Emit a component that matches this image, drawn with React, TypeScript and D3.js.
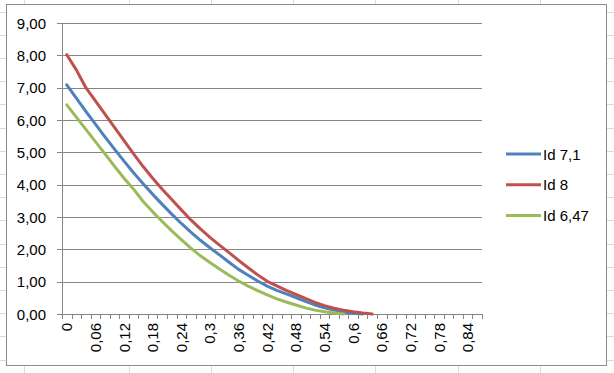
import React from "react";
import * as d3 from "d3";

const categories: number[] = [
  0, 0.02, 0.04, 0.06, 0.08, 0.1, 0.12, 0.14, 0.16, 0.18, 0.2, 0.22, 0.24, 0.26, 0.28, 0.3,
  0.32, 0.34, 0.36, 0.38, 0.4, 0.42, 0.44, 0.46, 0.48, 0.5, 0.52, 0.54, 0.56, 0.58, 0.6,
  0.62, 0.64, 0.66, 0.68, 0.7, 0.72, 0.74, 0.76, 0.78, 0.8, 0.82, 0.84, 0.86,
];

const seriesNames: string[] = ["Id 7,1", "Id 8", "Id 6,47"];
const seriesColors: string[] = ["#4F81BD", "#C0504D", "#9BBB59"];

const id71: number[] = [
  7.09, 6.68, 6.27, 5.87, 5.48, 5.1, 4.73, 4.37, 4.03, 3.7, 3.39, 3.09, 2.8, 2.53, 2.28, 2.05,
  1.83, 1.6, 1.38, 1.2, 1.02, 0.86, 0.73, 0.62, 0.51, 0.39, 0.28, 0.19, 0.12, 0.06, 0.02, 0,
];
const id8: number[] = [
  8.02, 7.55, 7.0, 6.59, 6.18, 5.77, 5.36, 4.95, 4.56, 4.2, 3.86, 3.54, 3.22, 2.91, 2.63, 2.37,
  2.13, 1.9, 1.66, 1.43, 1.21, 1.01, 0.87, 0.73, 0.61, 0.48, 0.36, 0.26, 0.18, 0.12, 0.07, 0.03, 0,
];
const id647: number[] = [
  6.47, 6.09, 5.71, 5.33, 4.95, 4.57, 4.2, 3.86, 3.48, 3.16, 2.86, 2.57, 2.3, 2.04, 1.8, 1.59,
  1.39, 1.2, 1.02, 0.86, 0.72, 0.59, 0.47, 0.37, 0.28, 0.19, 0.12, 0.07, 0.03, 0,
];

const yTicks: number[] = [0, 1, 2, 3, 4, 5, 6, 7, 8, 9];

const W = 614;
const H = 373;
const FONT = "'Liberation Sans', Arial, sans-serif";

export default function App() {
  const allSeries = [id71, id8, id647];
  const x = d3
    .scaleBand<string>()
    .domain(categories.map((c) => String(c)))
    .range([62, 482])
    .padding(0);
  const bw = x.bandwidth();
  const cx = (i: number) => (x(String(categories[i])) as number) + bw / 2;
  const y = d3.scaleLinear().domain([0, 9]).range([314, 23]);
  const fmtY = (v: number) => d3.format(".2f")(v).replace(".", ",");
  const fmtX = (v: number) => String(v).replace(".", ",");

  const line = d3
    .line<number>()
    .x((_, i) => cx(i))
    .y((d) => y(d));

  // spreadsheet background grid
  const colLines = [24, 129, 211, 293, 375, 458, 540];
  const rowLines = d3.range(0, 16).map((k) => 11.5 + 23.2 * k);

  const boundaries = categories.map((c) => x(String(c)) as number).concat([482]);

  return (
    <svg
      width={W}
      height={H}
      style={{ position: "absolute", left: 0, top: 0, background: "#fff" }}
      fontFamily={FONT}
    >
      <g stroke="#d8dce1" strokeWidth={1}>
        {colLines.map((cxl, i) => (
          <line key={"c" + i} x1={cxl + 0.5} x2={cxl + 0.5} y1={0} y2={H} />
        ))}
        {rowLines.map((ry, i) => (
          <line key={"r" + i} x1={0} x2={W} y1={Math.round(ry) + 0.5} y2={Math.round(ry) + 0.5} />
        ))}
      </g>
      <rect x={6.5} y={4.5} width={600} height={361} fill="#fff" stroke="#8c8c8c" strokeWidth={1} />

      {/* gridlines and y axis */}
      <g>
        {yTicks.map((t) => (
          <line
            key={t}
            x1={57}
            x2={482}
            y1={Math.round(y(t)) + 0.5}
            y2={Math.round(y(t)) + 0.5}
            stroke="#868686"
            strokeWidth={1}
          />
        ))}
        <line x1={62.5} x2={62.5} y1={23} y2={314} stroke="#868686" />
        {yTicks.map((t) => (
          <text
            key={"l" + t}
            x={46}
            y={y(t)}
            textAnchor="end"
            dominantBaseline="central"
            fontSize={15}
            fill="#000"
          >
            {fmtY(t)}
          </text>
        ))}
      </g>

      {/* x axis */}
      <g>
        <line x1={62} x2={482} y1={314.5} y2={314.5} stroke="#868686" />
        {boundaries.map((b, i) => (
          <line
            key={"t" + i}
            x1={Math.round(b) + 0.5}
            x2={Math.round(b) + 0.5}
            y1={314}
            y2={319}
            stroke="#868686"
          />
        ))}
        {categories.map((c, i) =>
          i % 3 === 0 ? (
            <text
              key={"x" + i}
              transform={`translate(${cx(i)},323) rotate(-90)`}
              textAnchor="end"
              dominantBaseline="central"
              fontSize={15}
              fill="#000"
            >
              {fmtX(c)}
            </text>
          ) : null
        )}
      </g>

      {/* series */}
      {allSeries.map((s, k) => (
        <path
          key={"s" + k}
          d={line(s) || ""}
          fill="none"
          stroke={seriesColors[k]}
          strokeWidth={3}
          strokeLinejoin="round"
          strokeLinecap="round"
        />
      ))}

      {/* legend */}
      {seriesNames.map((n, k) => {
        const ly = 154 + k * 30.8;
        return (
          <g key={"lg" + k}>
            <line x1={506} x2={541} y1={ly} y2={ly} stroke={seriesColors[k]} strokeWidth={3} />
            <text x={543} y={ly} dominantBaseline="central" fontSize={15} fill="#000">
              {n}
            </text>
          </g>
        );
      })}
    </svg>
  );
}
